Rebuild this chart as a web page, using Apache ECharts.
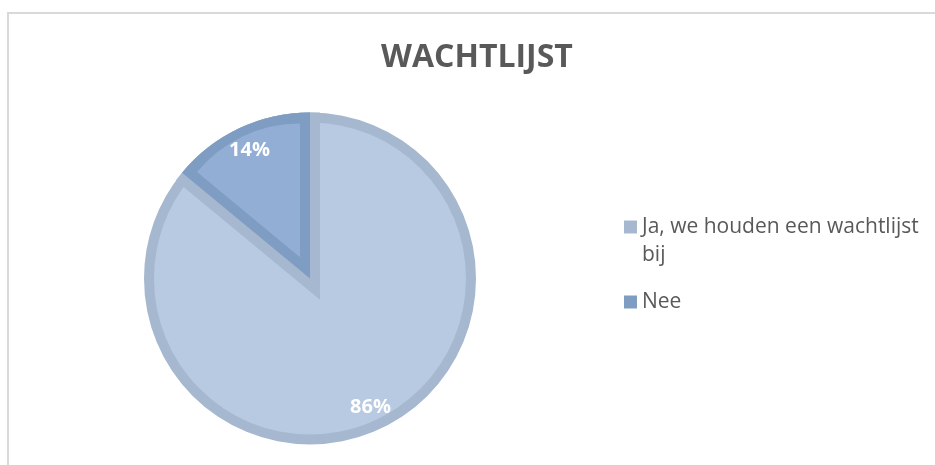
<!DOCTYPE html>
<html>
<head>
<meta charset="utf-8">
<script src="https://cdn.jsdelivr.net/npm/echarts@6/dist/echarts.min.js"></script>
<style>
  html, body { margin: 0; padding: 0; background: #fff; }
  #chart { width: 935px; height: 465px; }
</style>
</head>
<body>
<div id="chart"></div>
<script>
var categories = ['Ja, we houden een wachtlijst bij', 'Nee'];
var values = [86, 14];
var fillColors = ['#b7cae2', '#92aed4'];
var borderColors = ['#a6b8cf', '#7f9dc2'];

// pie geometry (Excel style: border drawn inside each slice)
var cx = 310, cy = 278.5;
var R = 166;      // outer radius
var bw = 10;      // border width inside the slice

var total = values[0] + values[1];
var wedgeAngle = values[1] / total * Math.PI * 2;          // angle of the small slice
var bisector = Math.PI / 2 + wedgeAngle / 2;                // its middle direction (math angle)
var shift = bw / Math.sin(wedgeAngle / 2);                  // apex shift of the inset wedge
var innerCx = cx + shift * Math.cos(bisector);
var innerCy = cy - shift * Math.sin(bisector);
var innerR = (R - bw) - shift * (1 + Math.cos(wedgeAngle / 2)) / 2;

function items(fn) {
    return categories.map(function (name, i) {
        return { name: name, value: values[i], itemStyle: fn(i) };
    });
}

// long legend names wrap before the last word; a leading empty line keeps
// the first line level with the marker (legend text is centred on it)
function legendText(name) {
    if (name.length < 25) return name;
    var k = name.lastIndexOf(' ');
    return '\n' + name.slice(0, k) + '\n' + name.slice(k + 1);
}

var base = {
    type: 'pie',
    startAngle: 90,
    clockwise: true,
    silent: true,
    animation: false,
    label: { show: false },
    labelLine: { show: false },
    emphasis: { disabled: true }
};

function pie(extra) {
    return Object.assign({}, base, extra);
}

var option = {
    backgroundColor: '#fff',
    animation: false,
    title: {
        text: 'WACHTLIJST',
        left: 381,
        top: 42,
        padding: 0,
        textStyle: {
            color: '#595959',
            fontSize: 32,
            fontWeight: 'bold',
            fontFamily: 'Open Sans'
        }
    },
    legend: {
        orient: 'vertical',
        left: 624,
        top: 185,
        padding: 0,
        itemGap: 19,
        itemWidth: 13,
        itemHeight: 13,
        icon: 'rect',
        selectedMode: false,
        formatter: legendText,
        textStyle: {
            color: '#595959',
            fontSize: 21,
            fontFamily: 'Open Sans',
            lineHeight: 28
        },
        data: categories
    },
    graphic: [{
        type: 'rect',
        shape: { x: 8, y: 13, width: 1000, height: 1000 },
        style: { fill: 'none', stroke: '#d9d9d9', lineWidth: 2 },
        silent: true
    }],
    series: [
        // outer ring in border colours
        pie({
            center: [cx, cy], radius: R,
            data: items(function (i) { return { color: borderColors[i] }; })
        }),
        // light fill everywhere inside the ring
        pie({
            center: [cx, cy], radius: R - bw,
            data: items(function () { return { color: fillColors[0] }; })
        }),
        // border of the big slice along the edges of the small one
        pie({
            center: [cx, cy], radius: R - bw,
            data: items(function (i) {
                return i === 1
                    ? { color: borderColors[0], borderColor: borderColors[0], borderWidth: bw * 2, borderJoin: 'miter', borderMiterLimit: 10 }
                    : { color: 'transparent', borderWidth: 0 };
            })
        }),
        // small slice in its border colour
        pie({
            center: [cx, cy], radius: R,
            data: items(function (i) {
                return { color: i === 1 ? borderColors[1] : 'transparent' };
            })
        }),
        // small slice fill, inset
        pie({
            center: [innerCx, innerCy], radius: innerR,
            data: items(function (i) {
                return { color: i === 1 ? fillColors[1] : 'transparent' };
            })
        }),
        // data labels
        pie({
            center: [cx, cy], radius: [112, R],
            data: items(function () { return { color: 'transparent' }; }),
            label: {
                show: true,
                position: 'inside',
                formatter: '{c}%',
                color: '#fff',
                fontSize: 20,
                fontWeight: 'bold',
                fontFamily: 'Open Sans'
            }
        })
    ]
};

var myChart = echarts.init(document.getElementById('chart'));
myChart.setOption(option);
</script>
</body>
</html>
